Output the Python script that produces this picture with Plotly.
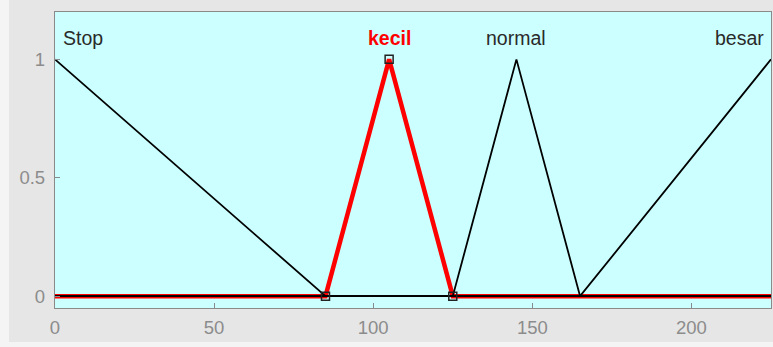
import plotly.graph_objects as go

# Membership functions (x breakpoints, y values) over universe [0, 225]
x_min, x_max = 0, 225
mf_names = ["Stop", "kecil", "normal", "besar"]
stop_x = [0, 85, 225]
stop_y = [1, 0, 0]
kecil_x = [0, 85, 105, 125, 225]
kecil_y = [0, 0, 1, 0, 0]
normal_x = [0, 125, 145, 165, 225]
normal_y = [0, 0, 1, 0, 0]
besar_x = [0, 165, 225]
besar_y = [0, 0, 1]
kecil_pts_x = [85, 105, 125]
kecil_pts_y = [0, 1, 0]
label_x = [0, 105, 145, 225]
label_y = 1.09

x_ticks = [0, 50, 100, 150, 200]
y_ticks = [0, 0.5, 1]
y_tick_text = ["0", "0.5", "1"]

W, H = 773, 347
L, R, T, B = 55, 2, 12, 39
pw, ph = W - L - R, H - T - B

fig = go.Figure()
# selected MF (red, thick) first
fig.add_trace(go.Scatter(x=kecil_x, y=kecil_y, mode="lines",
                         line=dict(color="#FF0000", width=4.5), hoverinfo="skip"))
for xs, ys in [(stop_x, stop_y), (normal_x, normal_y), (besar_x, besar_y)]:
    fig.add_trace(go.Scatter(x=xs, y=ys, mode="lines",
                             line=dict(color="#000000", width=1.8), hoverinfo="skip"))
fig.add_trace(go.Scatter(x=kecil_pts_x, y=kecil_pts_y, mode="markers",
                         marker=dict(symbol="square-open", size=8,
                                     color="#222222", line=dict(width=1.5)),
                         hoverinfo="skip"))

font_fam = "Liberation Sans, Arial, sans-serif"
lab_size = 19.5
anns = [
    dict(x=label_x[0], y=label_y, text=mf_names[0], xanchor="left", xshift=6,
         font=dict(color="#2A2A2A", size=lab_size, family=font_fam)),
    dict(x=label_x[1], y=label_y, text="<b>" + mf_names[1] + "</b>", xanchor="center",
         font=dict(color="#FF0000", size=lab_size, family=font_fam)),
    dict(x=label_x[2], y=label_y, text=mf_names[2], xanchor="center",
         font=dict(color="#2A2A2A", size=lab_size, family=font_fam)),
    dict(x=label_x[3], y=label_y, text=mf_names[3], xanchor="right", xshift=-5,
         font=dict(color="#2A2A2A", size=lab_size, family=font_fam)),
]
for a in anns:
    a.update(xref="x", yref="y", showarrow=False, yanchor="middle")
fig.update_layout(annotations=anns)

# light strips at left and bottom edges of the picture (margin only)
def px_to_paper_x(px):
    return (px - L) / pw

def py_to_paper_y(py):
    return (H - B - py) / ph

fig.add_shape(type="rect", xref="paper", yref="paper",
              x0=px_to_paper_x(0), x1=px_to_paper_x(9),
              y0=py_to_paper_y(H), y1=py_to_paper_y(0),
              fillcolor="#F4F4F4", line=dict(width=0), layer="below")
fig.add_shape(type="rect", xref="paper", yref="paper",
              x0=px_to_paper_x(0), x1=px_to_paper_x(W),
              y0=py_to_paper_y(H), y1=py_to_paper_y(342),
              fillcolor="#F4F4F4", line=dict(width=0), layer="below")

axis_common = dict(showgrid=False, zeroline=False, showline=True, mirror=True,
                   linecolor="#8A8A8A", linewidth=1.2, ticks="inside", ticklen=5,
                   tickcolor="#8A8A8A", tickwidth=1,
                   tickfont=dict(color="#8C8C8C", size=18.5, family=font_fam))
fig.update_xaxes(range=[x_min, x_max], tickvals=x_ticks, ticklabelstandoff=3, **axis_common)
fig.update_yaxes(range=[-0.05, 1.2], tickvals=y_ticks, ticktext=y_tick_text,
                 ticklabelstandoff=5, **axis_common)

fig.update_layout(width=W, height=H, margin=dict(l=L, r=R, t=T, b=B),
                  paper_bgcolor="#E6E6E6", plot_bgcolor="#CCFFFF",
                  showlegend=False)
fig.write_html("out.html", config={"displayModeBar": False, "staticPlot": True},
               post_script="document.body.style.margin='0';document.body.style.overflow='hidden';")
